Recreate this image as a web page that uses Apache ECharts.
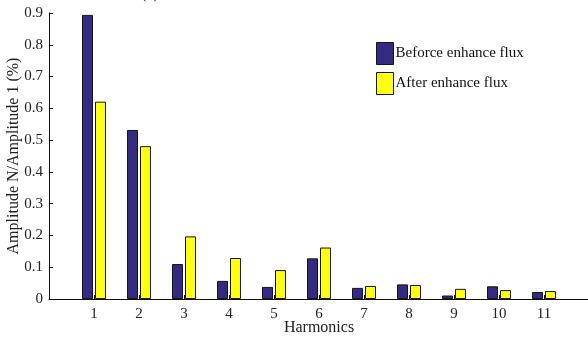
<!DOCTYPE html>
<html>
<head>
<meta charset="utf-8">
<script src="https://cdn.jsdelivr.net/npm/echarts@6/dist/echarts.min.js"></script>
<style>
  html, body { margin: 0; padding: 0; background: #fff; }
  #chart { width: 588px; height: 337px; }
</style>
</head>
<body>
<div id="chart"></div>
<script>
// Harmonic order (category labels)
const harmonics = ['1', '2', '3', '4', '5', '6', '7', '8', '9', '10', '11'];
// Amplitude ratio of each harmonic to the fundamental
const beforeFlux = [0.894, 0.532, 0.110, 0.057, 0.038, 0.128, 0.035, 0.046, 0.011, 0.040, 0.022];
const afterFlux  = [0.621, 0.481, 0.197, 0.129, 0.091, 0.162, 0.041, 0.044, 0.032, 0.028, 0.025];
const yTicks = [0, 0.1, 0.2, 0.3, 0.4, 0.5, 0.6, 0.7, 0.8, 0.9];

// The x axis spans 0..12 so that harmonics sit on integer positions with an empty slot at each end
const axisCats = [''].concat(harmonics, ['']);
const pad = arr => [null].concat(arr, [null]);

const FONT = '"Liberation Serif", "Times New Roman", serif';
const chart = echarts.init(document.getElementById('chart'));
chart.setOption({
  animation: false,
  backgroundColor: '#ffffff',
  textStyle: { fontFamily: FONT },
  title: {
    text: '(a)',
    left: 136,
    top: -19,
    textStyle: { fontFamily: FONT, fontSize: 16, fontWeight: 'normal', color: '#222' }
  },
  legend: {
    orient: 'vertical',
    left: 376,
    top: 42,
    padding: 0,
    itemWidth: 17,
    itemHeight: 22,
    itemGap: 7,
    icon: 'rect',
    itemStyle: { borderWidth: 1, borderColor: '#151515' },
    textStyle: { fontFamily: FONT, fontSize: 15, color: '#111', padding: [0, 0, 0, -3] },
    data: ['Beforce enhance flux', 'After enhance flux']
  },
  grid: { left: 49, right: -1, top: 13, bottom: 38, containLabel: false, outerBoundsMode: 'none' },
  xAxis: {
    type: 'category',
    data: axisCats,
    boundaryGap: false,
    name: 'Harmonics',
    nameLocation: 'middle',
    nameGap: 21,
    nameMoveOverlap: false,
    nameTextStyle: { fontFamily: FONT, fontSize: 16, color: '#222' },
    axisLine: { lineStyle: { color: '#111', width: 1 } },
    axisTick: { inside: true, length: 4, lineStyle: { color: '#111' } },
    axisLabel: { fontFamily: FONT, fontSize: 15, color: '#222', margin: 8 },
    splitLine: { show: false }
  },
  yAxis: {
    type: 'value',
    min: 0,
    max: 0.9,
    interval: 0.1,
    name: 'Amplitude N/Amplitude 1 (%)',
    nameLocation: 'middle',
    nameGap: 27,
    nameMoveOverlap: false,
    nameTextStyle: { fontFamily: FONT, fontSize: 16, color: '#222' },
    axisLine: { show: true, lineStyle: { color: '#111', width: 1 } },
    axisTick: { show: true, inside: true, length: 4, lineStyle: { color: '#111' } },
    axisLabel: {
      fontFamily: FONT, fontSize: 15, color: '#222', margin: 6,
      formatter: v => {
        const t = yTicks.find(k => Math.abs(k - v) < 1e-9);
        return t === undefined ? '' : String(t);
      }
    },
    splitLine: { show: false }
  },
  series: [
    {
      name: 'Beforce enhance flux',
      type: 'bar',
      data: pad(beforeFlux),
      barWidth: 11,
      barGap: '18%',
      itemStyle: { color: '#332a82', borderColor: '#151515', borderWidth: 1 }
    },
    {
      name: 'After enhance flux',
      type: 'bar',
      data: pad(afterFlux),
      barWidth: 11,
      itemStyle: { color: '#ffff10', borderColor: '#151515', borderWidth: 1 }
    }
  ]
});
</script>
</body>
</html>
